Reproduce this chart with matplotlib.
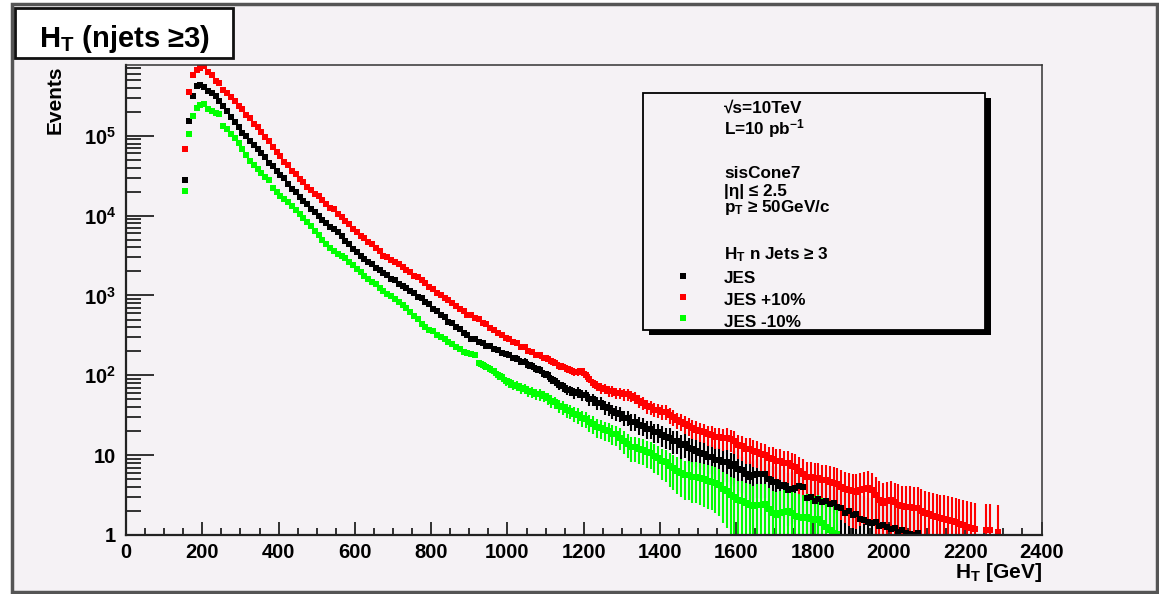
import numpy as np
import matplotlib
matplotlib.use("Agg")
import matplotlib.pyplot as plt
from matplotlib.patches import Rectangle
from matplotlib.lines import Line2D
from matplotlib.ticker import FixedLocator, LogLocator, NullFormatter, MultipleLocator, FuncFormatter

# ---------------- data (log10 of events per 10 GeV bin, first bin 150-160 GeV) ----------------
bin_start = 150.0
bin_width = 10.0

log_jes = [
    4.44, 5.19, 5.50, 5.62, 5.64, 5.61, 5.56, 5.54, 5.50, 5.43,
    5.37, 5.31, 5.23, 5.17, 5.11, 5.04, 5.00, 4.93, 4.89, 4.84,
    4.78, 4.73, 4.66, 4.62, 4.56, 4.51, 4.47, 4.40, 4.33, 4.29,
    4.23, 4.18, 4.14, 4.08, 4.05, 3.99, 3.94, 3.91, 3.86, 3.83,
    3.80, 3.75, 3.68, 3.65, 3.58, 3.54, 3.49, 3.46, 3.42, 3.39,
    3.35, 3.32, 3.28, 3.26, 3.21, 3.19, 3.14, 3.12, 3.09, 3.05,
    3.03, 2.98, 2.97, 2.92, 2.89, 2.83, 2.80, 2.76, 2.73, 2.67,
    2.65, 2.60, 2.58, 2.53, 2.51, 2.46, 2.45, 2.42, 2.41, 2.37,
    2.37, 2.33, 2.32, 2.28, 2.27, 2.26, 2.22, 2.21, 2.17, 2.17,
    2.13, 2.12, 2.08, 2.07, 2.02, 2.00, 1.95, 1.93, 1.88, 1.86,
    1.82, 1.81, 1.78, 1.79, 1.75, 1.75, 1.70, 1.70, 1.65, 1.65,
    1.60, 1.59, 1.55, 1.53, 1.52, 1.47, 1.47, 1.42, 1.42, 1.38,
    1.37, 1.33, 1.33, 1.29, 1.29, 1.25, 1.23, 1.22, 1.18, 1.18,
    1.13, 1.14, 1.09, 1.08, 1.05, 1.03, 1.02, 0.98, 0.98, 0.94,
    0.94, 0.91, 0.91, 0.87, 0.89, 0.83, 0.81, 0.76, 0.73, 0.75,
    0.77, 0.76, 0.77, 0.70, 0.67, 0.66, 0.61, 0.62, 0.56, 0.57,
    0.59, 0.61, 0.60, 0.46, 0.47, 0.43, 0.45, 0.41, 0.42, 0.39,
    0.40, 0.35, 0.34, 0.28, 0.30, 0.25, 0.26, 0.20, 0.19, 0.16,
    0.15, 0.16, 0.11, 0.13, 0.10, 0.07, 0.09, 0.04, 0.06, 0.02,
    0.01, 0.00, 0.03,
]

log_jes_up = [
    4.83, 5.55, 5.76, 5.82, 5.85, 5.88, 5.80, 5.76, 5.69, 5.66,
    5.57, 5.54, 5.48, 5.44, 5.37, 5.33, 5.26, 5.22, 5.15, 5.11,
    5.05, 4.99, 4.94, 4.86, 4.80, 4.75, 4.67, 4.63, 4.56, 4.52,
    4.46, 4.42, 4.36, 4.32, 4.27, 4.24, 4.19, 4.15, 4.10, 4.08,
    4.02, 3.98, 3.93, 3.89, 3.83, 3.80, 3.75, 3.72, 3.67, 3.64,
    3.59, 3.56, 3.50, 3.48, 3.44, 3.42, 3.39, 3.36, 3.32, 3.29,
    3.25, 3.23, 3.19, 3.15, 3.10, 3.08, 3.03, 3.01, 2.97, 2.94,
    2.90, 2.87, 2.83, 2.80, 2.76, 2.75, 2.72, 2.71, 2.66, 2.64,
    2.59, 2.57, 2.53, 2.51, 2.47, 2.46, 2.42, 2.40, 2.36, 2.35,
    2.31, 2.29, 2.26, 2.25, 2.22, 2.21, 2.18, 2.16, 2.12, 2.11,
    2.08, 2.07, 2.04, 2.04, 2.05, 2.00, 1.96, 1.90, 1.87, 1.84,
    1.83, 1.80, 1.80, 1.78, 1.78, 1.76, 1.76, 1.74, 1.72, 1.68,
    1.65, 1.61, 1.60, 1.57, 1.56, 1.54, 1.54, 1.50, 1.48, 1.44,
    1.42, 1.39, 1.37, 1.34, 1.32, 1.30, 1.29, 1.26, 1.25, 1.23,
    1.23, 1.21, 1.22, 1.20, 1.18, 1.13, 1.11, 1.08, 1.08, 1.05,
    1.04, 1.01, 1.00, 0.96, 0.95, 0.93, 0.93, 0.90, 0.90, 0.87,
    0.85, 0.80, 0.77, 0.73, 0.73, 0.71, 0.71, 0.69, 0.69, 0.67,
    0.65, 0.64, 0.60, 0.58, 0.56, 0.55, 0.54, 0.56, 0.57, 0.59,
    0.56, 0.50, 0.44, 0.40, 0.42, 0.44, 0.41, 0.38, 0.36, 0.35,
    0.35, 0.34, 0.34, 0.30, 0.27, 0.26, 0.24, 0.23, 0.21, 0.20,
    0.19, 0.18, 0.16, 0.14, 0.13, 0.10, 0.09, 0.08, None, None,
    0.06, 0.06, None, 0.04,
]

log_jes_down = [
    4.31, 5.02, 5.25, 5.35, 5.38, 5.40, 5.33, 5.31, 5.29, 5.27,
    5.12, 5.08, 5.02, 4.97, 4.91, 4.83, 4.76, 4.68, 4.63, 4.59,
    4.53, 4.48, 4.44, 4.35, 4.29, 4.25, 4.21, 4.17, 4.12, 4.07,
    4.02, 3.97, 3.92, 3.87, 3.81, 3.76, 3.69, 3.65, 3.60, 3.56,
    3.52, 3.50, 3.47, 3.42, 3.38, 3.33, 3.29, 3.25, 3.21, 3.17,
    3.14, 3.09, 3.06, 3.02, 2.99, 2.96, 2.92, 2.88, 2.84, 2.79,
    2.74, 2.70, 2.64, 2.61, 2.57, 2.55, 2.51, 2.48, 2.46, 2.42,
    2.39, 2.35, 2.33, 2.29, 2.28, 2.27, 2.26, 2.15, 2.13, 2.11,
    2.08, 2.05, 2.00, 1.98, 1.93, 1.91, 1.88, 1.87, 1.84, 1.83,
    1.80, 1.79, 1.77, 1.76, 1.74, 1.71, 1.68, 1.66, 1.62, 1.60,
    1.56, 1.55, 1.52, 1.50, 1.46, 1.45, 1.41, 1.39, 1.35, 1.34,
    1.31, 1.30, 1.27, 1.26, 1.22, 1.18, 1.14, 1.10, 1.10, 1.08,
    1.07, 1.04, 1.03, 0.99, 0.97, 0.93, 0.91, 0.86, 0.84, 0.80,
    0.78, 0.75, 0.75, 0.73, 0.73, 0.71, 0.70, 0.68, 0.67, 0.65,
    0.63, 0.58, 0.55, 0.50, 0.48, 0.44, 0.43, 0.40, 0.38, 0.36,
    0.38, 0.38, 0.39, 0.33, 0.28, 0.25, 0.28, 0.29, 0.30, 0.27,
    0.24, 0.23, 0.21, 0.22, 0.20, 0.19, 0.20, 0.15, 0.10, 0.06,
    0.02, 0.01,
]

event_weight = 1.5   # MC event weight used for the statistical error sqrt(w * N)

series_labels = ["JES", "JES +10%", "JES -10%"]
series_colors = ["#000000", "#ff0000", "#00ff00"]

x_ticks = [0, 200, 400, 600, 800, 1000, 1200, 1400, 1600, 1800, 2000, 2200, 2400]
y_ticks = [1, 10, 1e2, 1e3, 1e4, 1e5]
y_tick_labels = ["1", "10", r"$10^{2}$", r"$10^{3}$", r"$10^{4}$", r"$10^{5}$"]

# ---------------- style ----------------
W, H = 1159, 594
BG = "#f5f2f5"
plt.rcParams["font.family"] = ["Liberation Sans", "DejaVu Sans"]
plt.rcParams["font.weight"] = "bold"
plt.rcParams["mathtext.fontset"] = "custom"
plt.rcParams["mathtext.rm"] = "Liberation Sans:bold"
plt.rcParams["mathtext.bf"] = "Liberation Sans:bold"
plt.rcParams["mathtext.it"] = "Liberation Sans:bold"
plt.rcParams["mathtext.default"] = "regular"


def fx(x):
    return x / W


def fy(y):
    return 1 - y / H


fig = plt.figure(figsize=(W / 100, H / 100), dpi=100, facecolor="white")

# outer canvas frame
fig.add_artist(Rectangle((fx(12), fy(592)), fx(1157) - fx(12), fy(4) - fy(592),
                         transform=fig.transFigure, facecolor=BG, edgecolor="#555555",
                         linewidth=2.5, zorder=-5))

ax = fig.add_axes([fx(126), fy(535), fx(1041.5) - fx(126), fy(65) - fy(535)])
ax.set_facecolor(BG)
ax.patch.set_alpha(0)
ax.set_yscale("log")
ax.set_xlim(0, 2400)
ax.set_ylim(1, 7.7e5)

for logs, color in zip([log_jes, log_jes_up, log_jes_down], series_colors):
    arr = np.array([np.nan if v is None else v for v in logs], dtype=float)
    centers = bin_start + bin_width * (np.arange(len(arr)) + 0.5)
    ok = ~np.isnan(arr)
    x = centers[ok]
    y = 10 ** arr[ok]
    err = np.sqrt(event_weight * y)
    low = y - np.maximum(y - err, 0.3)
    ax.errorbar(x, y, yerr=[low, err], fmt="s", ms=4.8, mew=0, color=color,
                ecolor=color, elinewidth=1.5, capsize=0)

# axes style
for side in ["left", "bottom"]:
    ax.spines[side].set_linewidth(1.6)
    ax.spines[side].set_color("#222222")
for side in ["top", "right"]:
    ax.spines[side].set_linewidth(1.1)
    ax.spines[side].set_color("#333333")

ax.xaxis.set_major_locator(FixedLocator(x_ticks))
ax.xaxis.set_minor_locator(MultipleLocator(50))
ax.yaxis.set_major_locator(FixedLocator(y_ticks))
ax.yaxis.set_major_formatter(FuncFormatter(lambda v, p: y_tick_labels[y_ticks.index(v)] if v in y_ticks else ""))
ax.yaxis.set_minor_locator(LogLocator(base=10, subs=np.arange(2, 10)))
ax.yaxis.set_minor_formatter(NullFormatter())

ax.tick_params(axis="x", which="major", direction="in", length=9.5, width=1.3,
               color="#222222", labelsize=14.5, pad=5.5, top=False)
ax.tick_params(axis="x", which="minor", direction="in", length=5, width=1.3,
               color="#222222", top=False)
ax.tick_params(axis="y", which="major", direction="in", length=20, width=1.3,
               color="#222222", labelsize=14.5, pad=7, right=False)
ax.tick_params(axis="y", which="minor", direction="in", length=11, width=1.3,
               color="#222222", right=False)
for lab in ax.get_xticklabels() + ax.get_yticklabels():
    lab.set_fontweight("bold")

# axis titles
fig.text(fx(1042), fy(578), r"$H_T$ [GeV]", ha="right", va="baseline", fontsize=15,
         fontweight="bold")
fig.text(fx(55), fy(65), "Events", rotation=90, ha="center", va="top", fontsize=15,
         fontweight="bold")

# title box
fig.add_artist(Rectangle((fx(15), fy(58)), fx(233) - fx(15), fy(8) - fy(58),
                         transform=fig.transFigure, facecolor="white", edgecolor="#111111",
                         linewidth=2, zorder=2))
fig.text(fx(124), fy(47), r"$H_T$ (njets ≥3)", ha="center", va="baseline",
         fontsize=21, fontweight="bold", zorder=3)

# legend box with shadow
lx0, ly0, lx1, ly1 = 642.7, 93.3, 985, 330
fig.add_artist(Rectangle((fx(lx0 + 6), fy(ly1 + 5)), fx(lx1) - fx(lx0), fy(ly0) - fy(ly1),
                         transform=fig.transFigure, facecolor="black", edgecolor="black",
                         linewidth=0, zorder=2))
fig.add_artist(Rectangle((fx(lx0), fy(ly1)), fx(lx1) - fx(lx0), fy(ly0) - fy(ly1),
                         transform=fig.transFigure, facecolor=BG, edgecolor="black",
                         linewidth=1.3, zorder=2.1))

legend_lines = [
    ("√s=10TeV", 112.3),
    (r"L=10 pb$^{-1}$", 134),
    ("sisCone7", 178.3),
    ("|η| ≤ 2.5", 195.7),
    (r"$p_T$ ≥ 50GeV/c", 212.3),
    (r"$H_T$ n Jets ≥ 3", 259.3),
    (series_labels[0], 283.3),
    (series_labels[1], 305),
    (series_labels[2], 326.7),
]
for txt, yb in legend_lines:
    fig.text(fx(724), fy(yb), txt, ha="left", va="baseline", fontsize=12.3,
             fontweight="bold", zorder=3)

for color, ym in zip(series_colors, [275.7, 297, 318.3]):
    fig.add_artist(Line2D([fx(683.3)], [fy(ym)], marker="s", ms=4.6, mew=0, color=color,
                          linestyle="none", transform=fig.transFigure, zorder=3))

fig.savefig("out.png", dpi=100, facecolor="white")
